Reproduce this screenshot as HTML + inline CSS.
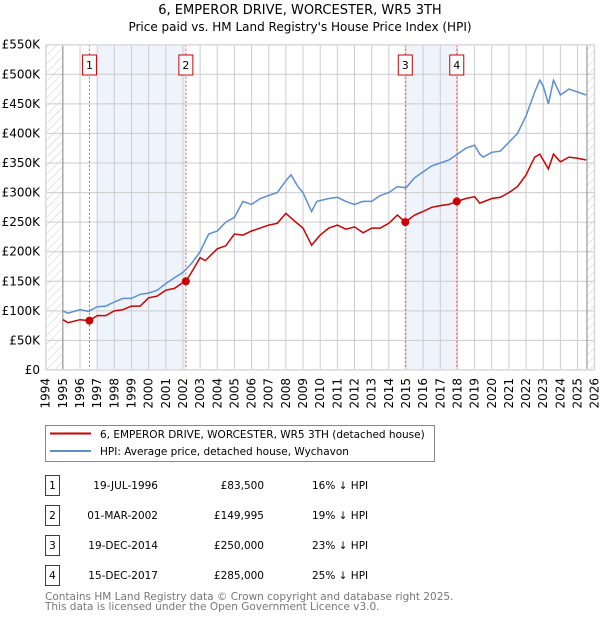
<!DOCTYPE html>
<html><head><meta charset="utf-8"><style>
body{margin:0;background:#fff;font-family:"Liberation Sans","DejaVu Sans",sans-serif}
svg text{font-family:"DejaVu Sans","Liberation Sans",sans-serif}
</style></head><body>
<svg id="c" width="600" height="620" xmlns="http://www.w3.org/2000/svg">
<defs><pattern id="hatch" width="6" height="6" patternUnits="userSpaceOnUse" patternTransform="rotate(45)"><line x1="0" y1="0" x2="0" y2="6" stroke="#ccc" stroke-width="1"/></pattern></defs>
<text x="300" y="14" text-anchor="middle" font-size="13" fill="#000">6, EMPEROR DRIVE, WORCESTER, WR5 3TH</text>
<text x="300" y="31" text-anchor="middle" font-size="12" fill="#000">Price paid vs. HM Land Registry's House Price Index (HPI)</text>
<g id="plot"></g>
<g>
<rect x="45.5" y="425.5" width="389" height="36" fill="#fff" stroke="#888"/>
<line x1="50" y1="433.5" x2="91" y2="433.5" stroke="#cc0000" stroke-width="2"/>
<text x="100" y="438" font-size="10.5">6, EMPEROR DRIVE, WORCESTER, WR5 3TH (detached house)</text>
<line x1="50" y1="451" x2="91" y2="451" stroke="#5b8fd4" stroke-width="2"/>
<text x="100" y="455" font-size="10.5">HPI: Average price, detached house, Wychavon</text>
</g>
<g id="table" font-size="10.5"></g>
<text x="45" y="600" font-size="10.5" fill="#777">Contains HM Land Registry data © Crown copyright and database right 2025.</text>
<text x="45" y="610" font-size="10.5" fill="#777">This data is licensed under the Open Government Licence v3.0.</text>
</svg>
<script>
const hpiYears=[1995,1995.3,1996,1996.5,1997,1997.5,1998,1998.5,1999,1999.5,2000,2000.5,2001,2001.5,2002,2002.5,2003,2003.5,2004,2004.5,2005,2005.5,2006,2006.5,2007,2007.5,2008,2008.3,2008.7,2009,2009.5,2009.8,2010.5,2011,2011.5,2012,2012.5,2013,2013.5,2014,2014.5,2015,2015.5,2016,2016.5,2017,2017.5,2018,2018.5,2019,2019.3,2019.5,2020,2020.5,2021,2021.5,2022,2022.5,2022.8,2023,2023.3,2023.6,2024,2024.5,2025,2025.5];
const hpiValues=[100,96,102,99,107,108,115,121,121,128,130,135,146,156,165,180,200,230,235,250,258,285,280,290,295,300,320,330,310,300,268,285,290,292,285,280,285,285,295,300,310,308,325,335,345,350,355,365,375,380,365,360,368,370,385,400,430,470,490,480,450,490,465,475,470,465];
const priceYears=[1995,1995.3,1996,1996.55,1997,1997.5,1998,1998.5,1999,1999.5,2000,2000.5,2001,2001.5,2002,2002.17,2002.5,2003,2003.3,2004,2004.5,2005,2005.5,2006,2006.5,2007,2007.5,2008,2008.5,2009,2009.5,2010,2010.5,2011,2011.5,2012,2012.5,2013,2013.5,2014,2014.5,2014.96,2015.5,2016,2016.5,2017,2017.5,2017.96,2018.5,2019,2019.3,2020,2020.5,2021,2021.5,2022,2022.5,2022.8,2023.3,2023.6,2024,2024.5,2025,2025.5];
const priceValues=[85,80,85,83.5,92,92,100,102,108,108,122,125,135,138,148,150,165,190,185,205,210,230,228,235,240,245,248,265,252,240,211,228,240,245,238,242,232,240,240,248,262,250,262,268,275,278,280,285,290,293,282,290,292,300,310,330,360,365,340,365,352,360,358,355];
const saleYears=[1996.55,2002.17,2014.96,2017.96];
const saleValues=[83.5,149.995,250,285];
const saleLabels=["1","2","3","4"];
const saleDates=["19-JUL-1996","01-MAR-2002","19-DEC-2014","15-DEC-2017"];
const salePrices=["£83,500","£149,995","£250,000","£285,000"];
const saleDiffs=["16% ↓ HPI","19% ↓ HPI","23% ↓ HPI","25% ↓ HPI"];
const yTicks=[0,50,100,150,200,250,300,350,400,450,500,550];
const yTickLabels=["£0","£50K","£100K","£150K","£200K","£250K","£300K","£350K","£400K","£450K","£500K","£550K"];
const xTicks=[1994,1995,1996,1997,1998,1999,2000,2001,2002,2003,2004,2005,2006,2007,2008,2009,2010,2011,2012,2013,2014,2015,2016,2017,2018,2019,2020,2021,2022,2023,2024,2025,2026];
const shadeRanges=[[1997,2002.17],[2014.96,2017.96]];

const X0=45.7,X1=594.7,Y0=370,Y1=44.7;
const xs=y=>X0+(y-1994)/(2026-1994)*(X1-X0);
const ys=v=>Y0-v/550*(Y0-Y1);
const NS="http://www.w3.org/2000/svg";
function mk(tag,attrs,parent,txt){const e=document.createElementNS(NS,tag);for(const k in attrs)e.setAttribute(k,attrs[k]);if(txt!==undefined)e.textContent=txt;parent.appendChild(e);return e;}
const g=document.getElementById('plot');
let e;
e=mk('rect',{x:X0,y:Y1,width:X1-X0,height:Y0-Y1,fill:'#fff'},g);


shadeRanges.forEach(r=>{e=mk('rect',{x:xs(r[0]),y:Y1,width:xs(r[1])-xs(r[0]),height:Y0-Y1,fill:'#eef3fc'},g);

});
e=mk('rect',{x:X0,y:Y1,width:xs(1995)-X0,height:Y0-Y1,fill:'url(#hatch)'},g);


e=mk('rect',{x:xs(2025.55),y:Y1,width:X1-xs(2025.55),height:Y0-Y1,fill:'url(#hatch)'},g);


xTicks.forEach((t,i)=>{const x=xs(t);
e=mk('line',{x1:x,x2:x,y1:Y1,y2:Y0,stroke:'#ccc','stroke-width':1},g);


e=mk('text',{x:0,y:0,transform:`translate(${x+4},${Y0+8}) rotate(-90)`,'text-anchor':'end','font-size':12},g,String(t));

});
yTicks.forEach((t,i)=>{const y=ys(t);
e=mk('line',{x1:X0,x2:X1,y1:y,y2:y,stroke:'#ccc','stroke-width':1},g);


e=mk('text',{x:40,y:y+4,'text-anchor':'end','font-size':12},g,yTickLabels[i]);

});
[xs(1995),xs(2025.55)].forEach(x=>{e=mk('line',{x1:x,x2:x,y1:Y1,y2:Y0,stroke:'#888','stroke-width':1},g);

});
saleYears.forEach((s,i)=>{const x=xs(s);
e=mk('line',{x1:x,x2:x,y1:Y1,y2:Y0,stroke:'#e55','stroke-width':1,'stroke-dasharray':'2,2'},g);


e=mk('rect',{x:x-7,y:55,width:14,height:20,fill:'#fff',stroke:'#cc0000'},g);


e=mk('text',{x:x,y:69,'text-anchor':'middle','font-size':11},g,saleLabels[i]);

});
e=mk('rect',{x:X0+0.5,y:Y1+0.5,width:X1-X0-1,height:Y0-Y1-1,fill:'none',stroke:'#ddd'},g);


const path=(xa,va)=>xa.map((t,i)=>(i?'L':'M')+xs(t).toFixed(1)+','+ys(va[i]).toFixed(1)).join('');
e=mk('path',{d:path(hpiYears,hpiValues),fill:'none',stroke:'#5b8fd4','stroke-width':1.5},g);


e=mk('path',{d:path(priceYears,priceValues),fill:'none',stroke:'#cc0000','stroke-width':1.5},g);


saleYears.forEach((s,i)=>{e=mk('circle',{cx:xs(s),cy:ys(saleValues[i]),r:4,fill:'#cc0000'},g);

});
const tb=document.getElementById('table');
saleLabels.forEach((l,i)=>{const y=475+i*30;
e=mk('rect',{x:45.5,y:y+0.5,width:14,height:20,fill:'#fff',stroke:'#cc0000'},tb);


e=mk('text',{x:52.5,y:y+14,'text-anchor':'middle'},tb,l);


e=mk('text',{x:158,y:y+14,'text-anchor':'end'},tb,saleDates[i]);


e=mk('text',{x:264,y:y+14,'text-anchor':'end'},tb,salePrices[i]);


e=mk('text',{x:312,y:y+14},tb,saleDiffs[i]);

});
</script>
</body></html>
